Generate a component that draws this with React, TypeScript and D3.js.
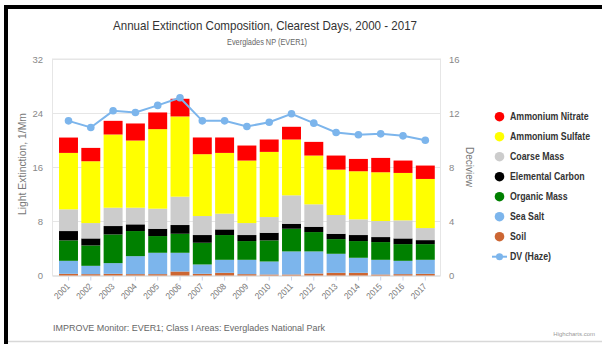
import React from "react";
import * as d3 from "d3";

const years = ["2001","2002","2003","2004","2005","2006","2007","2008","2009","2010","2011","2012","2013","2014","2015","2016","2017"];
const soil = [0.25,0.2,0.25,0.2,0.2,0.59,0.25,0.4,0.2,0.15,0.15,0.3,0.4,0.4,0.15,0.2,0.25];
const seaSalt = [1.92,1.23,1.58,2.66,3.16,2.77,1.38,1.92,2.12,1.92,3.41,3.26,2.81,2.22,2.17,1.97,2.07];
const organicMass = [3.02,3.01,4.24,3.71,2.47,2.81,3.21,3.66,2.77,3.12,3.35,2.86,2.17,2.47,2.62,2.47,2.32];
const elementalCarbon = [1.38,1.04,1.24,0.99,1.08,1.29,1.14,0.83,0.89,1.13,0.74,0.79,0.79,0.89,0.74,0.84,0.59];
const coarseMass = [3.21,2.27,2.71,2.46,2.97,4.19,2.81,2.33,1.77,2.32,4.2,3.31,2.77,2.32,2.37,2.67,1.78];
const ammoniumSulfate = [8.34,9.14,10.82,9.93,11.75,11.86,9.14,8.98,9.24,9.63,8.25,7.21,6.71,7.11,7.21,7.01,7.26];
const ammoniumNitrate = [2.27,1.97,2.02,2.52,2.47,2.61,2.47,2.28,2.22,1.83,1.88,2.02,2.08,1.82,2.12,1.83,1.98];
const dvHaze = [11.43,10.94,12.17,12.05,12.57,13.14,11.43,11.43,11.01,11.33,11.95,11.26,10.57,10.4,10.47,10.32,10.0];

const leftTicks = [0, 8, 16, 24, 32];
const rightTicks = [0, 4, 8, 12, 16];

// stack order bottom -> top
const stackSeries = [
  { name: "Soil", values: soil, color: "#cc6633" },
  { name: "Sea Salt", values: seaSalt, color: "#7cb5ec" },
  { name: "Organic Mass", values: organicMass, color: "#008000" },
  { name: "Elemental Carbon", values: elementalCarbon, color: "#000000" },
  { name: "Coarse Mass", values: coarseMass, color: "#cccccc" },
  { name: "Ammonium Sulfate", values: ammoniumSulfate, color: "#ffff00" },
  { name: "Ammonium Nitrate", values: ammoniumNitrate, color: "#ff0000" },
];
const dvColor = "#7cb5ec";

const FONT = "'Liberation Sans', Arial, Helvetica, sans-serif";

export default function App() {
  const plotL = 52.5, plotR = 440.5, plotT = 59, plotB = 275.5;
  const x = d3.scalePoint<string>().domain(years).range([68.5, 425.3]);
  const step = x.step();
  const barW = step * 0.85;
  const yL = d3.scaleLinear().domain([0, 32]).range([plotB, plotT]);
  const yR = d3.scaleLinear().domain([0, 16]).range([plotB, plotT]);

  const table = years.map((yr, i) => {
    const row: any = { year: yr };
    stackSeries.forEach((s) => (row[s.name] = s.values[i]));
    return row;
  });
  const stacked = d3.stack().keys(stackSeries.map((s) => s.name))(table);

  const line = d3
    .line<number>()
    .x((_, i) => x(years[i]) as number)
    .y((d) => yR(d));

  const legendItems = [...stackSeries].reverse();
  const legendY0 = 116.7;
  const legendStep = 20;

  return (
    <div style={{ position: "fixed", left: 0, top: 0 }}>
      <svg width={602} height={344} style={{ display: "block", background: "#fff", fontFamily: FONT }}>
        <rect x={0} y={0} width={602} height={344} fill="#fff" />
        {/* frame */}
        <rect x={4} y={5} width={598} height={4} fill="#000" />
        <rect x={4} y={5} width={4} height={339} fill="#000" />
        <line x1={8} x2={602} y1={341.5} y2={341.5} stroke="#d8d8d8" strokeWidth={1.5} />

        {/* titles */}
        <text x={265} y={29.5} textAnchor="middle" fontSize={13.5} fill="#333" textLength={304} lengthAdjust="spacingAndGlyphs">
          Annual Extinction Composition, Clearest Days, 2000 - 2017
        </text>
        <text x={267} y={45} textAnchor="middle" fontSize={9.5} fill="#666" textLength={80} lengthAdjust="spacingAndGlyphs">
          Everglades NP (EVER1)
        </text>

        {/* gridlines */}
        {leftTicks.map((t) => (
          <line key={"g" + t} x1={plotL} x2={plotR} y1={Math.round(yL(t)) + 0.5} y2={Math.round(yL(t)) + 0.5} stroke="#e6e6e6" strokeWidth={1} />
        ))}
        <rect x={plotL} y={plotT} width={plotR - plotL} height={plotB - plotT} fill="none" stroke="#e6e6e6" strokeWidth={1} />

        {/* axis labels */}
        {leftTicks.map((t) => (
          <text key={"l" + t} x={43} y={yL(t) + 3.5} textAnchor="end" fontSize={9.5} fill="#888">
            {t}
          </text>
        ))}
        {rightTicks.map((t) => (
          <text key={"r" + t} x={449} y={yR(t) + 3.5} textAnchor="start" fontSize={9.5} fill="#888">
            {t}
          </text>
        ))}
        <text transform="translate(26,164) rotate(-90)" textAnchor="middle" fontSize={10} fill="#777" textLength={102} lengthAdjust="spacingAndGlyphs">
          Light Extinction, 1/Mm
        </text>
        <text transform="translate(466,167) rotate(90)" textAnchor="middle" fontSize={10} fill="#777" textLength={40} lengthAdjust="spacingAndGlyphs">
          Deciview
        </text>

        {/* bars */}
        {stacked.map((layer, si) => (
          <g key={layer.key} fill={stackSeries[si].color}>
            {layer.map((d, i) => (
              <rect
                key={i}
                x={(x(years[i]) as number) - barW / 2}
                y={yL(d[1])}
                width={barW}
                height={Math.max(0, yL(d[0]) - yL(d[1]))}
              />
            ))}
          </g>
        ))}

        {/* x ticks and labels */}
        {years.map((yr) => (
          <g key={"x" + yr}>
            <line x1={(x(yr) as number)} x2={(x(yr) as number)} y1={plotB + 1} y2={plotB + 5} stroke="#ccd6eb" />
            <text
              transform={`translate(${(x(yr) as number) + 2},${287}) rotate(-45) scale(0.9,1)`}
              textAnchor="end"
              fontSize={9}
              fill="#777"
            >
              {yr}
            </text>
          </g>
        ))}

        {/* DV line */}
        <path d={line(dvHaze) || ""} fill="none" stroke={dvColor} strokeWidth={2} />
        {dvHaze.map((v, i) => (
          <circle key={"dv" + i} cx={x(years[i]) as number} cy={yR(v)} r={3.8} fill={dvColor} />
        ))}

        {/* legend */}
        {legendItems.map((s, i) => {
          const cy = legendY0 + i * legendStep;
          return (
            <g key={"lg" + s.name}>
              <circle cx={499.5} cy={cy} r={4.8} fill={s.color} />
              <text transform={`translate(510,${cy + 3.5}) scale(0.88,1)`} fontSize={10} fontWeight="bold" fill="#333">
                {s.name}
              </text>
            </g>
          );
        })}
        {(() => {
          const cy = legendY0 + legendItems.length * legendStep;
          return (
            <g>
              <line x1={492} x2={507} y1={cy} y2={cy} stroke={dvColor} strokeWidth={2} />
              <circle cx={499.5} cy={cy} r={3.5} fill={dvColor} />
              <text transform={`translate(510,${cy + 3.5}) scale(0.88,1)`} fontSize={10} fontWeight="bold" fill="#333">
                DV (Haze)
              </text>
            </g>
          );
        })()}

        {/* footer */}
        <text x={53} y={331} fontSize={9.5} fill="#666" textLength={272} lengthAdjust="spacingAndGlyphs">
          IMPROVE Monitor: EVER1; Class I Areas: Everglades National Park
        </text>
        <text x={595} y={336} textAnchor="end" fontSize={6} fill="#999">
          Highcharts.com
        </text>
      </svg>
    </div>
  );
}
